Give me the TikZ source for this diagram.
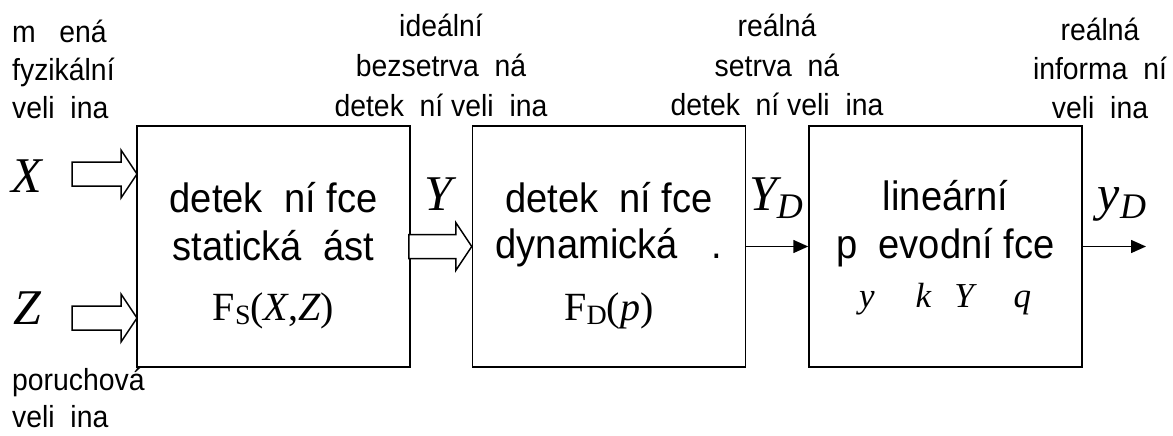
\documentclass[tikz,border=0pt]{standalone}
\usepackage{fontspec}
\setmainfont[FakeStretch=0.93]{Liberation Sans}
\newfontfamily\tms{Liberation Serif}
\usetikzlibrary{arrows.meta}
\tikzset{
  blk/.style={draw, line width=1.5pt, minimum width=273pt, minimum height=241pt, inner sep=0pt},
  lbl/.style={font=\fontsize{30.5}{30.5}\selectfont, inner sep=0pt, anchor=base},
  lblw/.style={lbl, anchor=base west},
  btxt/.style={font=\fontsize{41}{41}\selectfont, inner sep=0pt, anchor=base},
  mth/.style={font=\fontsize{50}{50}\selectfont\tms\itshape, inner sep=0pt, anchor=base},
  fmth/.style={font=\fontsize{40}{40}\selectfont\tms, inner sep=0pt, anchor=base},
  smth/.style={font=\fontsize{35}{35}\selectfont\tms\itshape, inner sep=0pt, anchor=base west},
  hollow/.style={draw, line width=1.5pt, fill=white, line join=miter},
  conn/.style={line width=1.5pt, -{Triangle[length=15pt,width=13pt]}},
}
\begin{document}
\begin{tikzpicture}[x=1pt,y=-1pt]
\useasboundingbox (0,0) rectangle (1173,436);
% blocks
\node[blk] (b1) at (273.5,246.5) {};
\node[blk] (b2) at (609,246.5) {};
\node[blk] (b3) at (945.5,246.5) {};
% hollow arrows
\coordinate (xtip) at (137,174);
\coordinate (ztip) at (137,318);
\draw[hollow] (xtip) -- ++(-16,-24) -- ++(0,12) -- ++(-49,0) -- ++(0,24) -- ++(49,0) -- ++(0,12) -- cycle;
\draw[hollow] (ztip) -- ++(-16,-24) -- ++(0,12) -- ++(-49,0) -- ++(0,24) -- ++(49,0) -- ++(0,12) -- cycle;
\draw[hollow] (b2.west) -- ++(-16,-24) -- ++(0,12) -- ++(-47,0) -- ++(0,24) -- ++(47,0) -- ++(0,12) -- cycle;
% solid arrows
\coordinate (out) at (1146,246.5);
\draw[conn] (b2.east) -- (b3.west);
\draw[conn] (b3.east) -- (out);
% symbols
\node[mth] (X) at (27,192) {X};
\node[mth] (Z) at (27,324) {Z};
\node[mth] (Y) at (438,210) {Y};
\node[mth] (YD) at (776,210) {Y\raisebox{-8pt}{\fontsize{36}{36}\selectfont D}};
\node[mth] (yD) at (1122,210) {y\raisebox{-8pt}{\fontsize{36}{36}\selectfont D}};
% block texts
\node[btxt] (t11) at (273.5,212) {detek\ \ ní fce};
\node[btxt] (t12) at (273.5,260) {statická\ \ ást};
\node[fmth] (t13) at (273.5,320) {F\raisebox{-4pt}{\fontsize{28}{28}\selectfont S}(\textit{X},\textit{Z})};
\node[btxt] (t21) at (609,212) {detek\ \ ní fce};
\node[btxt] (t22) at (609,258) {dynamická\hspace{34pt}.};
\node[fmth] (t23) at (609,320) {F\raisebox{-4pt}{\fontsize{28}{28}\selectfont D}(\textit{p})};
\node[btxt] (t31) at (945.5,210) {lineární};
\node[btxt] (t32) at (945.5,258) {p\ \ evodní fce};
\node[smth] (t33) at (859,307) {y\hspace{41pt}k\hspace{23pt}Y\hspace{40pt}q};
% labels
\node[lblw] (l11) at (12,43) {m\ \ \ ená};
\node[lblw] (l12) at (12,81) {fyzikální};
\node[lblw] (l13) at (12,118) {veli\ \ ina};
\node[lbl] (l21) at (441,37) {ideální};
\node[lbl] (l22) at (441,77) {bezsetrva\ \ ná};
\node[lbl] (l23) at (441,116) {detek\ \ ní veli\ \ ina};
\node[lbl] (l31) at (777,37) {reálná};
\node[lbl] (l32) at (777,77) {setrva\ \ ná};
\node[lbl] (l33) at (777,115) {detek\ \ ní veli\ \ ina};
\node[lbl] (l41) at (1100,41) {reálná};
\node[lbl] (l42) at (1100,80) {informa\ \ ní};
\node[lbl] (l43) at (1100,118) {veli\ \ ina};
\node[lblw] (l51) at (12,390) {poruchová};
\node[lblw] (l52) at (12,427) {veli\ \ ina};
\end{tikzpicture}
\end{document}
